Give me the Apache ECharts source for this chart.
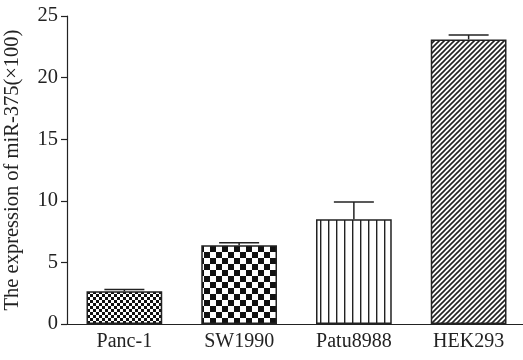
<!DOCTYPE html>
<html><head><meta charset="utf-8">
<script src="https://cdn.jsdelivr.net/npm/echarts@6/dist/echarts.min.js"></script>
<style>html,body{margin:0;padding:0;background:#fff}#c{width:523px;height:360px}</style>
</head><body><div id="c"></div>
<script>
const categories = ['Panc-1', 'SW1990', 'Patu8988', 'HEK293'];
const values = [2.65, 6.4, 8.5, 23.1];
const errors = [0.15, 0.2, 1.4, 0.35];
const yTicks = [0, 5, 10, 15, 20, 25];

function pat(kind) {
  const c = document.createElement('canvas');
  const ctx = c.getContext('2d');
  if (kind === 'smallcheck') {
    c.width = 6; c.height = 6;
    ctx.fillStyle = '#fff'; ctx.fillRect(0,0,6,6);
    ctx.fillStyle = '#111'; ctx.fillRect(0,0,3,3); ctx.fillRect(3,3,3,3);
  } else if (kind === 'bigcheck') {
    c.width = 12; c.height = 12;
    ctx.fillStyle = '#fff'; ctx.fillRect(0,0,12,12);
    ctx.fillStyle = '#111'; ctx.fillRect(0,0,6,6); ctx.fillRect(6,6,6,6);
  } else if (kind === 'vert') {
    c.width = 8; c.height = 4;
    ctx.fillStyle = '#fff'; ctx.fillRect(0,0,8,4);
    ctx.fillStyle = '#222'; ctx.fillRect(0,0,1.4,4);
  } else {
    c.width = 5; c.height = 5;
    ctx.fillStyle = '#fff'; ctx.fillRect(0,0,5,5);
    ctx.strokeStyle = '#222'; ctx.lineWidth = 1.6;
    ctx.beginPath();
    ctx.moveTo(-1,6); ctx.lineTo(6,-1);
    ctx.moveTo(-3.5,3.5); ctx.lineTo(3.5,-3.5);
    ctx.moveTo(1.5,8.5); ctx.lineTo(8.5,1.5);
    ctx.stroke();
  }
  return {image: c, repeat: 'repeat'};
}
const patterns = [pat('smallcheck'), pat('bigcheck'), pat('vert'), pat('diag')];

const chart = echarts.init(document.getElementById('c'), null, {renderer: 'canvas'});
const font = 'Liberation Serif';
chart.setOption({
  animation: false,
  grid: {left: 67, right: -3, top: 16, bottom: 36, containLabel: false, outerBoundsMode: 'none'},
  xAxis: {
    type: 'category', data: categories,
    axisLine: {lineStyle: {color: '#222', width: 1.2}},
    axisTick: {alignWithLabel: true, length: 6, lineStyle: {color: '#222', width: 1.2}},
    axisLabel: {color: '#222', fontFamily: font, fontSize: 20, margin: 8}
  },
  yAxis: {
    type: 'value', min: yTicks[0], max: yTicks[yTicks.length-1], interval: 5,
    name: 'The expression of miR-375(×100)', nameLocation: 'middle', nameGap: 44,
    nameTextStyle: {color: '#222', fontFamily: font, fontSize: 20.5},
    axisLine: {show: true, lineStyle: {color: '#222', width: 1.2}},
    axisTick: {show: true, length: 6, lineStyle: {color: '#222', width: 1.2}},
    axisLabel: {color: '#222', fontFamily: font, fontSize: 20.5, margin: 9},
    splitLine: {show: false}
  },
  series: [
    {
      type: 'bar', barWidth: '66%',
      data: values.map((v, i) => ({value: v, itemStyle: {color: patterns[i]}})),
      itemStyle: {borderColor: '#222', borderWidth: 1.5}
    },
    {
      type: 'custom', z: 5,
      data: values.map((v, i) => [i, v, v + errors[i]]),
      renderItem: function (params, api) {
        const base = api.coord([api.value(0), api.value(1)]);
        const top = api.coord([api.value(0), api.value(2)]);
        const hw = 20;
        const style = {stroke: '#222', lineWidth: 1.5};
        return {type: 'group', children: [
          {type: 'line', shape: {x1: base[0], y1: base[1], x2: top[0], y2: top[1]}, style},
          {type: 'line', shape: {x1: top[0]-hw, y1: top[1], x2: top[0]+hw, y2: top[1]}, style}
        ]};
      }
    }
  ]
});
</script></body></html>
